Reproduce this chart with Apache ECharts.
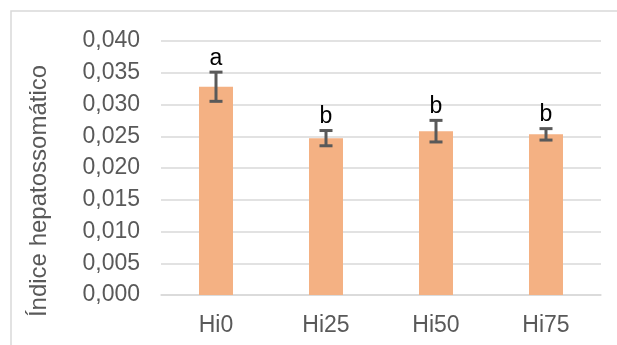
<!DOCTYPE html>
<html>
<head>
<meta charset="utf-8">
<script src="https://cdn.jsdelivr.net/npm/echarts@6/dist/echarts.min.js"></script>
<style>
  html, body { margin: 0; padding: 0; background: #fff; }
  #chart { width: 617px; height: 345px; }
</style>
</head>
<body>
<div id="chart"></div>
<script>
// Hepatosomatic index per treatment, mean ± error
const categories = ['Hi0', 'Hi25', 'Hi50', 'Hi75'];
const means = [0.0328, 0.0247, 0.0258, 0.0253];
const errors = [0.0023, 0.0012, 0.0017, 0.0009];
const letters = ['a', 'b', 'b', 'b'];
const yTicks = [0, 0.005, 0.010, 0.015, 0.020, 0.025, 0.030, 0.035, 0.040];

const FONT = 'Liberation Sans, Arial, sans-serif';
const TEXT_COLOR = '#595959';

const chart = echarts.init(document.getElementById('chart'), null, { renderer: 'canvas' });

const errData = categories.map((c, i) => [i, means[i], errors[i], letters[i]]);

chart.setOption({
  animation: false,
  grid: { left: 161, right: 16, top: 41, bottom: 50, containLabel: false },
  graphic: [
    {
      type: 'rect',
      shape: { x: 11, y: 11, width: 700, height: 400 },
      style: { fill: 'none', stroke: '#D9D9D9', lineWidth: 1.5 },
      silent: true
    },
    {
      type: 'text',
      x: 39, y: 191,
      rotation: Math.PI / 2,
      style: {
        text: 'Índice hepatossomático',
        font: '24px ' + FONT,
        fill: TEXT_COLOR,
        align: 'center',
        verticalAlign: 'middle'
      }
    }
  ],
  xAxis: {
    type: 'category',
    data: categories,
    axisLine: { show: true, lineStyle: { color: '#D9D9D9', width: 1.5 } },
    axisTick: { show: false },
    axisLabel: { color: TEXT_COLOR, fontFamily: FONT, fontSize: 23, margin: 19 }
  },
  yAxis: {
    type: 'value',
    min: 0, max: 0.04, interval: 0.005,
    axisLine: { show: false },
    axisTick: { show: false },
    splitLine: { lineStyle: { color: '#D9D9D9', width: 1.5 } },
    axisLabel: {
      color: TEXT_COLOR, fontFamily: FONT, fontSize: 23, margin: 21,
      formatter: v => {
        const t = yTicks.find(k => Math.abs(k - v) < 1e-9);
        return (t !== undefined ? t : v).toFixed(3).replace('.', ',');
      }
    }
  },
  series: [
    {
      type: 'bar',
      data: means,
      barWidth: 34,
      itemStyle: { color: '#F4B183' }
    },
    {
      type: 'custom',
      data: errData,
      z: 10,
      renderItem: (params, api) => {
        const x = api.value(0);
        const m = api.value(1);
        const e = api.value(2);
        const hi = api.coord([x, m + e]);
        const lo = api.coord([x, m - e]);
        const cap = 6.5;
        const ls = { stroke: '#595959', lineWidth: 3 };
        return {
          type: 'group',
          children: [
            { type: 'line', shape: { x1: hi[0], y1: hi[1], x2: lo[0], y2: lo[1] }, style: ls },
            { type: 'line', shape: { x1: hi[0] - cap, y1: hi[1], x2: hi[0] + cap, y2: hi[1] }, style: ls },
            { type: 'line', shape: { x1: lo[0] - cap, y1: lo[1], x2: lo[0] + cap, y2: lo[1] }, style: ls },
            {
              type: 'text',
              x: hi[0], y: hi[1] - 2,
              style: {
                text: letters[params.dataIndex],
                font: '23px ' + FONT,
                fill: '#000',
                align: 'center',
                verticalAlign: 'bottom'
              }
            }
          ]
        };
      }
    }
  ]
});
</script>
</body>
</html>
